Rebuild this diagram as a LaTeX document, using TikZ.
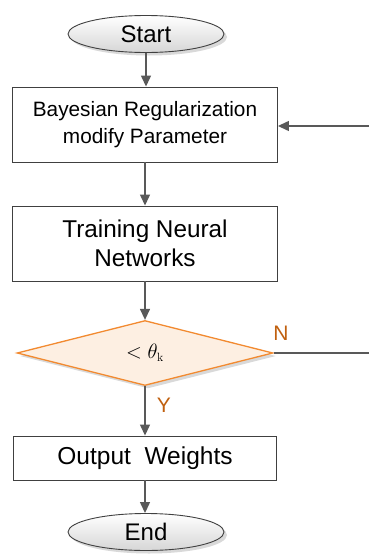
\documentclass[tikz,border=0pt]{standalone}
\usepackage{fontspec}
\setmainfont{Liberation Sans}
\newfontfamily\lmrfont{Latin Modern Roman}
\usetikzlibrary{shapes.geometric,arrows.meta,shadows}
\definecolor{linegray}{HTML}{595959}
\definecolor{boxgray}{HTML}{404040}
\definecolor{dorange}{HTML}{F28A30}
\definecolor{dfill}{HTML}{FDEFE2}
\definecolor{lblorange}{HTML}{C0600F}
\begin{document}
\begin{tikzpicture}[x=1pt,y=-1pt,
  conn/.style={draw=linegray,line width=1.3pt},
  arr/.style={conn,-{Triangle[width=10pt,length=11pt]}},
  term/.style={ellipse,draw=boxgray,line width=0.9pt,top color=white,bottom color=black!16,
    minimum width=156pt,minimum height=37pt,inner sep=0pt,
    drop shadow={shadow xshift=3pt,shadow yshift=-3pt,fill=black!25,opacity=0.6},
    font=\fontsize{24}{28}\selectfont},
  proc/.style={rectangle,draw=boxgray,line width=0.9pt,fill=white,inner sep=0pt,
    minimum width=265pt,align=center},
  decis/.style={diamond,draw=dorange,line width=1.3pt,fill=dfill,inner sep=0pt,aspect=4,
    minimum width=256pt,minimum height=65pt,
    drop shadow={shadow xshift=3pt,shadow yshift=-3pt,fill=black!25,opacity=0.6}},
  lbl/.style={text=lblorange,font=\fontsize{21}{24}\selectfont}]
\useasboundingbox (0,0) rectangle (369,557);
\node[term] (start) at (146,34) {Start};
\node[proc,minimum height=75pt,font=\fontsize{20.8}{27}\selectfont] (b1) at (145,124.5)
  {Bayesian Regularization\\modify Parameter};
\node[proc,minimum height=75pt,font=\fontsize{24.3}{29}\selectfont] (b2) at (145,243.5)
  {Training Neural\\Networks};
\node[decis] (d) at (145,353) {\fontsize{22}{26}\selectfont$<\theta_{\hbox{\lmrfont\fontsize{12}{12}\selectfont k}}$};
\node[proc,minimum width=263pt,minimum height=44pt,font=\fontsize{24.5}{29}\selectfont] (b3) at (145,458)
  {Output\ \ Weights};
\node[term] (end) at (146,532) {End};
\coordinate (nout) at (369,353);
\coordinate (nin) at (369,126);
\node[lbl] (nlab) at (281,333) {N};
\node[lbl] (ylab) at (164,405) {Y};
\draw[arr] (start.south) -- (start.south |- b1.north);
\draw[arr] (b1.south) -- (b2.north);
\draw[arr] (b2.south) -- (d.north);
\draw[arr] (d.south) -- (b3.north);
\draw[arr] (b3.south) -- (b3.south |- end.north);
\draw[conn] (d.east) -- (nout);
\draw[arr] (nin) -- (b1.east |- nin);
\end{tikzpicture}
\end{document}
